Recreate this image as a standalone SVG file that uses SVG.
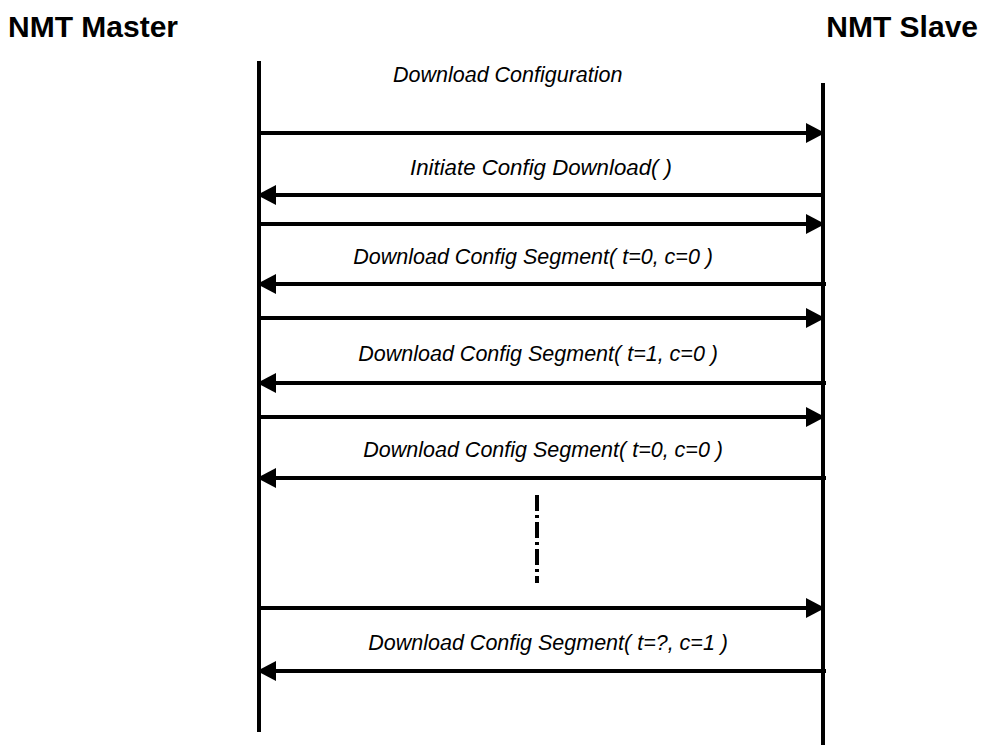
<svg xmlns="http://www.w3.org/2000/svg" width="983" height="747" viewBox="0 0 983 747">
  <style>
    .head { font-family: "Liberation Sans", Arial, sans-serif; font-weight: bold; font-size: 30px; fill: #000; }
    .lbl { font-family: "Liberation Sans", Arial, sans-serif; font-style: italic; font-size: 21.5px; fill: #000; }
    .end { text-anchor: end; }
    .life { stroke: #000; stroke-width: 4; fill: none; }
    .msg { stroke: #000; stroke-width: 4; fill: none; }
    .ah { fill: #000; stroke: none; }
    .cont { stroke: #000; stroke-width: 4; stroke-dasharray: 16 4 3 4; fill: none; }
  </style>
  <rect width="983" height="747" fill="#fff"/>
  <g id="master">
    <text class="head" x="8" y="37">NMT Master</text>
    <line class="life" x1="259" y1="61" x2="259" y2="732"/>
  </g>
  <g id="slave">
    <text class="head" x="978" y="37" text-anchor="end">NMT Slave</text>
    <line class="life" x1="823" y1="83" x2="823" y2="745"/>
  </g>
  <g id="labels">
    <text class="lbl" x="393" y="82">Download Configuration</text>
    <text class="lbl" x="410" y="175" textLength="262" lengthAdjust="spacingAndGlyphs">Initiate Config Download( )</text>
    <text class="lbl end" x="713" y="264">Download Config Segment( t=0, c=0 )</text>
    <text class="lbl end" x="718" y="361">Download Config Segment( t=1, c=0 )</text>
    <text class="lbl end" x="723" y="457">Download Config Segment( t=0, c=0 )</text>
    <text class="lbl end" x="728" y="650">Download Config Segment( t=?, c=1 )</text>
  </g>
  <g id="connectors">
    <line class="msg" x1="259" y1="133" x2="810" y2="133"/>
    <polygon class="ah" points="825,133 806,123 806,143"/>
    <line class="msg" x1="259" y1="224" x2="810" y2="224"/>
    <polygon class="ah" points="825,224 806,214 806,234"/>
    <line class="msg" x1="259" y1="318" x2="810" y2="318"/>
    <polygon class="ah" points="825,318 806,308 806,328"/>
    <line class="msg" x1="259" y1="417" x2="810" y2="417"/>
    <polygon class="ah" points="825,417 806,407 806,427"/>
    <line class="msg" x1="259" y1="608" x2="810" y2="608"/>
    <polygon class="ah" points="825,608 806,598 806,618"/>
    <line class="msg" x1="825" y1="195" x2="272" y2="195"/>
    <polygon class="ah" points="257,195 276,185 276,205"/>
    <line class="msg" x1="826" y1="284" x2="272" y2="284"/>
    <polygon class="ah" points="257,284 276,274 276,294"/>
    <line class="msg" x1="826" y1="383" x2="272" y2="383"/>
    <polygon class="ah" points="257,383 276,373 276,393"/>
    <line class="msg" x1="826" y1="478" x2="272" y2="478"/>
    <polygon class="ah" points="257,478 276,468 276,488"/>
    <line class="msg" x1="826" y1="671" x2="272" y2="671"/>
    <polygon class="ah" points="257,671 276,661 276,681"/>
    <line class="cont" x1="537" y1="495" x2="537" y2="583"/>
  </g>
</svg>
